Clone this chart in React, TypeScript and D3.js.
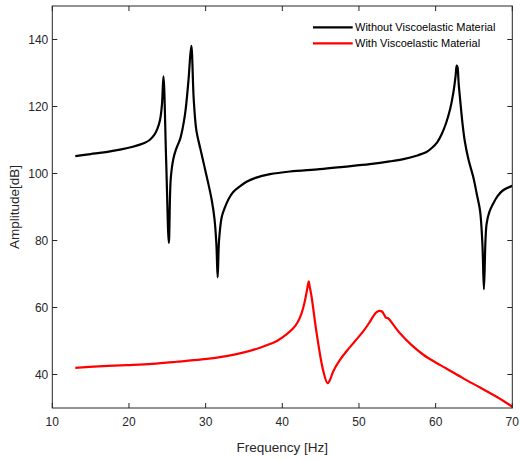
import React from "react";
import * as d3 from "d3";

const blackFreq = [13, 15, 17, 19, 20.5, 22, 22.7, 23.3, 23.7, 24.05, 24.3, 24.5, 24.85, 25.2, 25.45, 25.8, 26.2, 26.7, 27.3, 27.75, 28.13, 28.45, 28.8, 29.3, 29.8, 30.3, 30.8, 31.15, 31.4, 31.57, 31.75, 32.1, 32.5, 33.0, 33.6, 34.5, 35.4, 36.5, 38.4, 41, 44.9, 48, 51.4, 54, 55.8, 57.5, 58.8, 59.5, 60.2, 60.8, 61.4, 61.9, 62.3, 62.6, 62.75, 62.85, 63.0, 63.2, 63.5, 63.8, 64.3, 64.9, 65.4, 65.8, 66.1, 66.3, 66.5, 66.65, 67.0, 67.5, 68.1, 68.8, 70];
const blackAmp = [105.2, 105.8, 106.4, 107.2, 108.0, 109.1, 110.0, 111.5, 113.3, 116, 120.5, 129, 104, 79.3, 98.5, 104.5, 107.6, 110.5, 117.5, 127.5, 138.1, 122, 112.7, 107.5, 102.5, 97.5, 92, 86.5, 79, 69, 80, 87, 89.8, 92.4, 94.5, 96.2, 97.6, 98.7, 99.8, 100.6, 101.3, 102, 102.8, 103.6, 104.3, 105.3, 106.4, 107.6, 109.3, 111.8, 115.3, 119.3, 124, 129, 132.2, 131.8, 127, 122, 115, 109.7, 104, 99, 93.5, 88.8, 79, 65.4, 80, 85, 88.5, 91, 93.3, 95, 96.3];

const redFreq = [13, 16, 19.7, 23, 26.2, 29.5, 32.7, 35, 37.1, 38.3, 39.3, 40.5, 41.4, 42, 42.5, 42.9, 43.2, 43.45, 43.55, 43.8, 44.5, 45.35, 45.9, 46.2, 46.65, 47.5, 48.4, 49.5, 50.6, 51.3, 51.9, 52.3, 52.65, 53.0, 53.3, 53.5, 53.8, 54.5, 55.35, 56.8, 58.4, 60, 61.4, 63.5, 65.8, 68, 70];
const redAmp = [42, 42.4, 42.8, 43.2, 43.8, 44.5, 45.5, 46.6, 48, 49, 50.0, 51.9, 53.7, 55.6, 58.2, 61.5, 64.9, 67.8, 66.5, 63.5, 52, 41, 37.4, 38.3, 41, 44.3, 47, 50, 53, 55.3, 57.5, 58.6, 59, 58.8, 57.8, 57, 56.8, 54.8, 52.3, 48.9, 45.9, 43.6, 41.8, 39.0, 36.1, 33.3, 30.4];

const xTicks = [10, 20, 30, 40, 50, 60, 70];
const yTicks = [40, 60, 80, 100, 120, 140];
const seriesNames = ["Without Viscoelastic Material", "With Viscoelastic Material"];
const seriesColors = ["#000000", "#ff0000"];

const W = 520;
const H = 461;
const left = 52.3;
const right = 512.3;
const top = 6;
const bottom = 408;
const axisColor = "#262626";
const font = "'Liberation Sans', Arial, Helvetica, sans-serif";

export default function App() {
  const x = d3.scaleLinear().domain([10, 70]).range([left, right]);
  const y = d3.scaleLinear().domain([30, 150]).range([bottom, top]);
  const line = d3
    .line<[number, number]>()
    .x((d) => x(d[0]))
    .y((d) => y(d[1]))
    .curve(d3.curveCatmullRom.alpha(0.5));
  const black: [number, number][] = blackFreq.map((f, i) => [f, blackAmp[i]]);
  const red: [number, number][] = redFreq.map((f, i) => [f, redAmp[i]]);
  const tl = 5;
  const legendY = [27.3, 43.3];

  return (
    <svg
      width={W}
      height={H}
      style={{ position: "absolute", left: 0, top: 0, background: "#fff" }}
      fontFamily={font}
    >
      <rect x={0} y={0} width={W} height={H} fill="#fff" />
      <defs>
        <clipPath id="plotclip">
          <rect x={left} y={top} width={right - left} height={bottom - top} />
        </clipPath>
      </defs>
      <g clipPath="url(#plotclip)">
        <path d={line(black) || ""} fill="none" stroke={seriesColors[0]} strokeWidth={2.2} strokeLinejoin="round" />
        <path d={line(red) || ""} fill="none" stroke={seriesColors[1]} strokeWidth={2.2} strokeLinejoin="round" />
      </g>
      <rect x={left} y={top} width={right - left} height={bottom - top} fill="none" stroke={axisColor} strokeWidth={1} />
      {xTicks.map((t) => (
        <g key={"x" + t}>
          <line x1={x(t)} x2={x(t)} y1={bottom} y2={bottom - tl} stroke={axisColor} />
          <line x1={x(t)} x2={x(t)} y1={top} y2={top + tl} stroke={axisColor} />
          <text x={x(t)} y={bottom + 18} textAnchor="middle" fontSize={12} fill={axisColor}>
            {t}
          </text>
        </g>
      ))}
      {yTicks.map((t) => (
        <g key={"y" + t}>
          <line x1={left} x2={left + tl} y1={y(t)} y2={y(t)} stroke={axisColor} />
          <line x1={right} x2={right - tl} y1={y(t)} y2={y(t)} stroke={axisColor} />
          <text x={left - 4} y={y(t)} dy="0.35em" textAnchor="end" fontSize={12} fill={axisColor}>
            {t}
          </text>
        </g>
      ))}
      <text x={(left + right) / 2} y={452} textAnchor="middle" fontSize={13.5} fill={axisColor}>
        Frequency [Hz]
      </text>
      <text
        transform={`translate(19,${(top + bottom) / 2}) rotate(-90)`}
        textAnchor="middle"
        fontSize={13.5}
        fill={axisColor}
      >
        Amplitude[dB]
      </text>
      {seriesNames.map((n, i) => (
        <g key={n}>
          <line x1={313} x2={352.7} y1={legendY[i]} y2={legendY[i]} stroke={seriesColors[i]} strokeWidth={2.2} />
          <text x={355} y={legendY[i]} dy="0.35em" fontSize={11} fill="#000">
            {n}
          </text>
        </g>
      ))}
    </svg>
  );
}
